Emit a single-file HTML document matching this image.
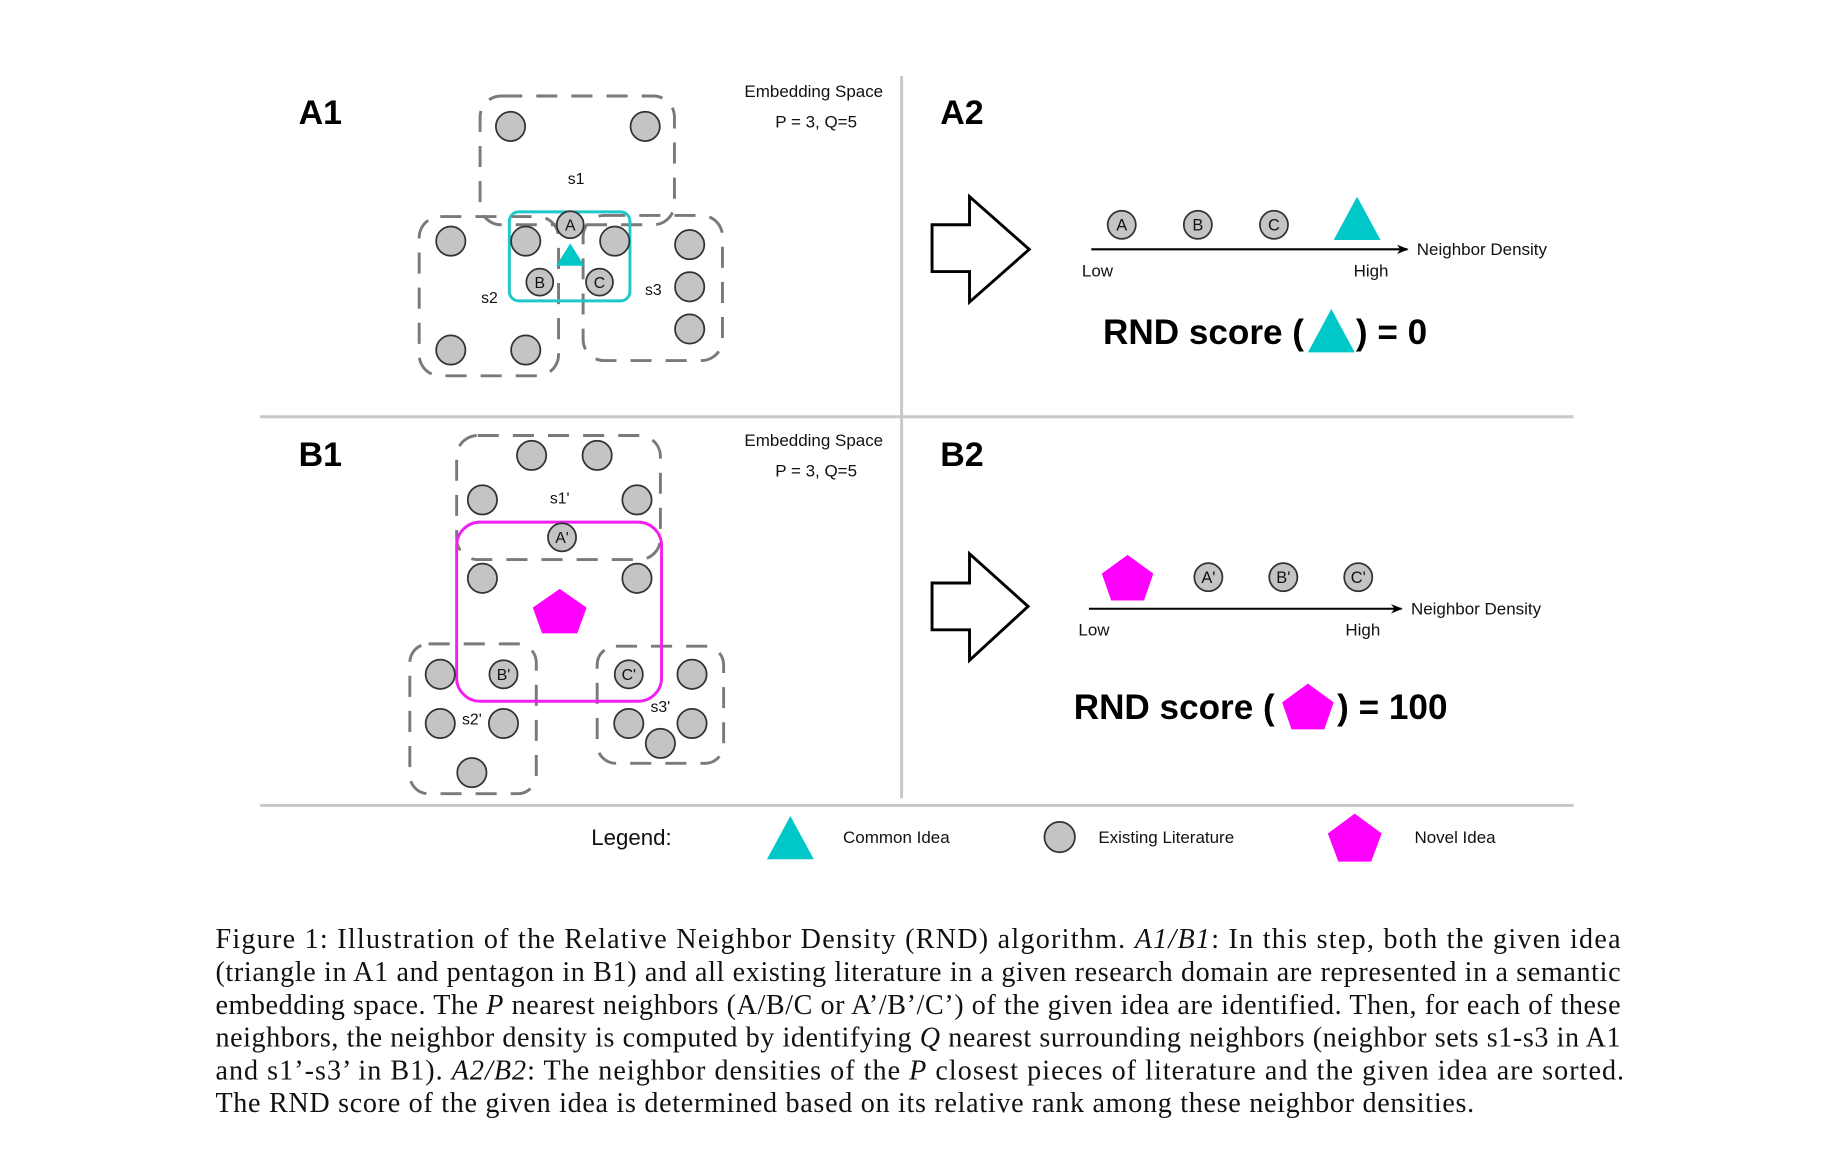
<!DOCTYPE html>
<html><head><meta charset="utf-8"><style>
html,body{margin:0;padding:0;background:#fff;}
svg{display:block;}
text{font-family:"Liberation Sans",Arial,sans-serif;}
.cap{font-family:"Liberation Serif","Times New Roman",serif;font-size:24px;fill:#111;}
</style></head><body>
<svg width="1836" height="1166" viewBox="0 0 1568 996" preserveAspectRatio="none" xmlns="http://www.w3.org/2000/svg">
<defs>
<marker id="ah" markerWidth="10" markerHeight="10" refX="9" refY="5" orient="auto" markerUnits="userSpaceOnUse"><path d="M0,1 L10,5 L0,9 L3,5 z" fill="#000"/></marker>
</defs>
<line x1="770" y1="65" x2="770" y2="682" stroke="#c8c8c8" stroke-width="2.5"/>
<line x1="222" y1="356" x2="1344" y2="356" stroke="#c8c8c8" stroke-width="2.5"/>
<line x1="222" y1="688" x2="1344" y2="688" stroke="#c8c8c8" stroke-width="2.5"/>

<g font-weight="bold" font-size="29">
<text x="255" y="106">A1</text><text x="803" y="106">A2</text>
<text x="255" y="398">B1</text><text x="803" y="398">B2</text>
</g>
<g font-size="14.5" text-anchor="middle" fill="#111">
<text x="695" y="83">Embedding Space</text><text x="697" y="109">P = 3, Q=5</text>
<text x="695" y="381">Embedding Space</text><text x="697" y="407">P = 3, Q=5</text>
</g>

<g fill="none" stroke="#7a7a7a" stroke-width="2.5" stroke-dasharray="18,12">
<rect x="410" y="82" width="166" height="110" rx="18"/>
<rect x="358" y="185" width="119" height="136" rx="18"/>
<rect x="498" y="184" width="119" height="124" rx="18"/>
</g>
<rect x="435" y="181" width="103" height="76" rx="8" fill="none" stroke="#1ec8c8" stroke-width="2.5"/>
<g fill="#c4c4c4" stroke="#333" stroke-width="1.5">
<circle cx="436" cy="108" r="12.5"/><circle cx="551" cy="108" r="12.5"/>
<circle cx="385" cy="206" r="12.5"/><circle cx="449" cy="206" r="12.5"/><circle cx="525" cy="206" r="12.5"/>
<circle cx="589" cy="209" r="12.5"/><circle cx="589" cy="245" r="12.5"/><circle cx="589" cy="281" r="12.5"/>
<circle cx="385" cy="299" r="12.5"/><circle cx="449" cy="299" r="12.5"/>
<circle cx="487" cy="192" r="11.5"/><circle cx="461" cy="241" r="11.5"/><circle cx="512" cy="241" r="11.5"/>
</g>
<polygon points="487,208 499,227 475,227" fill="#00c8c8"/>
<g font-size="13.5" text-anchor="middle" fill="#111">
<text x="487" y="197">A</text><text x="461" y="246">B</text><text x="512" y="246">C</text>
<text x="492" y="157">s1</text><text x="418" y="259">s2</text><text x="558" y="252">s3</text>
</g>

<polygon points="796,192 828,192 828,168 879,213 828,258 828,232 796,232" fill="#fff" stroke="#000" stroke-width="2.5"/>
<line x1="932" y1="213" x2="1202" y2="213" stroke="#000" stroke-width="1.8" marker-end="url(#ah)"/>
<g fill="#c4c4c4" stroke="#333" stroke-width="1.5">
<circle cx="958" cy="192" r="12"/><circle cx="1023" cy="192" r="12"/><circle cx="1088" cy="192" r="12"/>
</g>
<g font-size="14" text-anchor="middle" fill="#111">
<text x="958" y="197">A</text><text x="1023" y="197">B</text><text x="1088" y="197">C</text>
</g>
<polygon points="1159,168 1179,205 1139,205" fill="#00c8c8"/>
<g font-size="14.5" fill="#111">
<text x="924" y="236">Low</text><text x="1156" y="236">High</text><text x="1210" y="218">Neighbor Density</text>
</g>
<text x="942" y="294" font-size="30" font-weight="bold">RND score (</text>
<polygon points="1137,264 1157,301 1117,301" fill="#00c8c8"/>
<text x="1158" y="294" font-size="30" font-weight="bold">) = 0</text>

<g fill="none" stroke="#7a7a7a" stroke-width="2.5" stroke-dasharray="18,12">
<rect x="390" y="372" width="174" height="106" rx="18"/>
<rect x="350" y="550" width="108" height="128" rx="16"/>
<rect x="510" y="552" width="108" height="100" rx="16"/>
</g>
<rect x="390" y="446" width="175" height="153" rx="20" fill="none" stroke="#f020f0" stroke-width="2.5"/>
<g fill="#c4c4c4" stroke="#333" stroke-width="1.5">
<circle cx="454" cy="389" r="12.5"/><circle cx="510" cy="389" r="12.5"/>
<circle cx="412" cy="427" r="12.5"/><circle cx="544" cy="427" r="12.5"/>
<circle cx="412" cy="494" r="12.5"/><circle cx="544" cy="494" r="12.5"/>
<circle cx="376" cy="576" r="12.5"/><circle cx="376" cy="618" r="12.5"/><circle cx="430" cy="618" r="12.5"/><circle cx="403" cy="660" r="12.5"/>
<circle cx="591" cy="576" r="12.5"/><circle cx="537" cy="618" r="12.5"/><circle cx="591" cy="618" r="12.5"/><circle cx="564" cy="635" r="12.5"/>
<circle cx="480" cy="459" r="12"/><circle cx="430" cy="576" r="12"/><circle cx="537" cy="576" r="12"/>
</g>
<polygon points="478,503 501,519 493,541 463,541 455,519" fill="#ff00ff"/>
<g font-size="13.5" text-anchor="middle" fill="#111">
<text x="480" y="464">A'</text><text x="430" y="581">B'</text><text x="537" y="581">C'</text>
<text x="478" y="430">s1'</text><text x="403" y="619">s2'</text><text x="564" y="608">s3'</text>
</g>

<polygon points="796,498 828,498 828,473 878,518 828,564 828,538 796,538" fill="#fff" stroke="#000" stroke-width="2.5"/>
<line x1="930" y1="520" x2="1197" y2="520" stroke="#000" stroke-width="1.8" marker-end="url(#ah)"/>
<polygon points="963,474 985,490 977,513 949,513 941,490" fill="#ff00ff"/>
<g fill="#c4c4c4" stroke="#333" stroke-width="1.5">
<circle cx="1032" cy="493" r="12"/><circle cx="1096" cy="493" r="12"/><circle cx="1160" cy="493" r="12"/>
</g>
<g font-size="14" text-anchor="middle" fill="#111">
<text x="1032" y="498">A'</text><text x="1096" y="498">B'</text><text x="1160" y="498">C'</text>
</g>
<g font-size="14.5" fill="#111">
<text x="921" y="543">Low</text><text x="1149" y="543">High</text><text x="1205" y="525">Neighbor Density</text>
</g>
<text x="917" y="614" font-size="30" font-weight="bold">RND score (</text>
<polygon points="1117,584 1139,600 1131,623 1103,623 1095,600" fill="#ff00ff"/>
<text x="1142" y="614" font-size="30" font-weight="bold">) = 100</text>

<text x="505" y="722" font-size="19" fill="#111">Legend:</text>
<polygon points="675,697 695,734 655,734" fill="#00c8c8"/>
<text x="720" y="720" font-size="14.5" fill="#111">Common Idea</text>
<circle cx="905" cy="715" r="13" fill="#c4c4c4" stroke="#333" stroke-width="1.5"/>
<text x="938" y="720" font-size="14.5" fill="#111">Existing Literature</text>
<polygon points="1157,695 1180,712 1171,736 1143,736 1134,712" fill="#ff00ff"/>
<text x="1208" y="720" font-size="14.5" fill="#111">Novel Idea</text>

<text class="cap" x="184" y="810" textLength="1200" lengthAdjust="spacing">Figure 1: Illustration of the Relative Neighbor Density (RND) algorithm. <tspan font-style="italic">A1/B1</tspan>: In this step, both the given idea</text>
<text class="cap" x="184" y="838" textLength="1200" lengthAdjust="spacing">(triangle in A1 and pentagon in B1) and all existing literature in a given research domain are represented in a semantic</text>
<text class="cap" x="184" y="866" textLength="1200" lengthAdjust="spacing">embedding space. The <tspan font-style="italic">P</tspan> nearest neighbors (A/B/C or A’/B’/C’) of the given idea are identified. Then, for each of these</text>
<text class="cap" x="184" y="894" textLength="1200" lengthAdjust="spacing">neighbors, the neighbor density is computed by identifying <tspan font-style="italic">Q</tspan> nearest surrounding neighbors (neighbor sets s1-s3 in A1</text>
<text class="cap" x="184" y="922" textLength="1203" lengthAdjust="spacing">and s1’-s3’ in B1). <tspan font-style="italic">A2/B2</tspan>: The neighbor densities of the <tspan font-style="italic">P</tspan> closest pieces of literature and the given idea are sorted.</text>
<text class="cap" x="184" y="950" textLength="1075" lengthAdjust="spacing">The RND score of the given idea is determined based on its relative rank among these neighbor densities.</text>
</svg>
</body></html>
